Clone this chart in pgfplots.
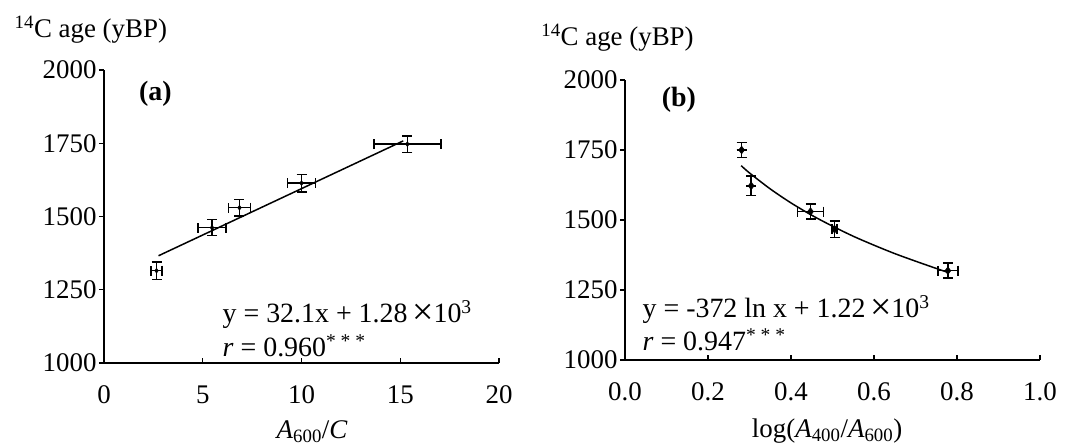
\documentclass[border=0pt]{standalone}
\usepackage{pgfplots}
\pgfplotsset{compat=1.18}
\usepackage{fontspec}
\setmainfont{Liberation Serif}
\newcommand{\tk}{\fontsize{27}{32}\selectfont}
\newcommand{\eq}{\fontsize{28}{32}\selectfont}
\newcommand{\bigx}{\,\raisebox{-1.5pt}{\fontsize{38}{38}\selectfont×}}
\begin{document}
\begin{tikzpicture}
\pgfplotsset{
  common/.style={
    scale only axis,
    axis x line*=bottom,
    axis y line*=left,
    axis line style={line width=1.6pt},
    tick align=inside,
    major tick length=5bp,
    tick style={line width=1.4pt, black},
    ytick style={xshift=-5bp},
    ymin=1000, ymax=2000,
    ytick={1000,1250,1500,1750,2000},
    tick label style={font=\tk},
    /pgf/number format/assume math mode=true,
    yticklabel style={/pgf/number format/1000 sep={}, xshift=-4bp},
    clip=false,
  },
  errs/.style={
    only marks, black, mark=diamond*, mark options={fill=black},
    error bars/.cd, x dir=both, x explicit, y dir=both, y explicit,
    error bar style={line width=1.5pt, black},
    error mark options={rotate=90, black, mark size=5bp, line width=1.5pt},
    /pgfplots/.cd,
  },
}
% ---------------- panel (a)
\begin{axis}[common,
  at={(104bp,82bp)}, anchor=south west,
  width=395bp, height=293bp,
  xmin=0, xmax=20, xtick={0,5,10,15,20},
  xticklabel style={yshift=-19bp},
  xlabel={\textit{A}\textsubscript{600}/\textit{C}},
  every axis x label/.style={at={(axis description cs:0.527,-0.235)}, anchor=center, font=\tk},
  ylabel={\textsuperscript{14}C age (yBP)},
  every axis y label/.style={at={(axis description cs:-0.235,1.137)}, anchor=west, font=\tk},
]
\addplot+[mark size=2.5, errs] table[x=x, y=y, x error=ex, y error=ey] {
x     y     ex    ey
2.66  1315  0.28  30
5.47  1462  0.70  27
6.86  1530  0.55  28
10.0  1614  0.70  30
15.36 1747  1.70  28
};
\addplot[black, line width=1.5pt, no marks] coordinates {(2.76,1366) (15.15,1758)};
\node[font=\fontsize{28}{32}\selectfont\bfseries, anchor=center] at (axis cs:2.6,1918) {(a)};
\node[font=\eq, anchor=west, inner sep=0pt] at (axis cs:6.0,1165) {y = 32.1x + 1.28\bigx10\textsuperscript{3}};
\node[font=\eq, anchor=west, inner sep=0pt] at (axis cs:6.0,1057) {\textit{r} = 0.960\textsuperscript{* * *}};
\end{axis}
% ---------------- panel (b)
\begin{axis}[common,
  at={(625bp,85bp)}, anchor=south west,
  width=415bp, height=280bp,
  xmin=0, xmax=1, xtick={0,0.2,0.4,0.6,0.8,1.0},
  xticklabel style={/pgf/number format/.cd, fixed, fixed zerofill, precision=1, /tikz/yshift=-19bp},
  xlabel={log(\textit{A}\textsubscript{400}/\textit{A}\textsubscript{600})},
  every axis x label/.style={at={(axis description cs:0.487,-0.255)}, anchor=center, font=\tk},
  ylabel={\textsuperscript{14}C age (yBP)},
  every axis y label/.style={at={(axis description cs:-0.21,1.15)}, anchor=west, font=\tk},
]
\addplot+[mark size=4, errs] table[x=x, y=y, x error=ex, y error=ey] {
x     y     ex     ey
0.281 1750  0      26
0.304 1622  0      35
0.447 1530  0.031  27
0.505 1467  0.006  30
0.778 1319  0.024  27
};
\addplot[black, line width=1.5pt, no marks, smooth] coordinates {
(0.28,1694) (0.30,1668) (0.35,1611) (0.40,1561) (0.45,1517) (0.50,1478)
(0.55,1442) (0.60,1410) (0.65,1380) (0.70,1353) (0.75,1327) (0.78,1312)};
\node[font=\fontsize{28}{32}\selectfont\bfseries, anchor=center] at (axis cs:0.13,1929) {(b)};
\node[font=\eq, anchor=west, inner sep=0pt] at (axis cs:0.042,1179) {y = -372 ln x + 1.22\bigx10\textsuperscript{3}};
\node[font=\eq, anchor=west, inner sep=0pt] at (axis cs:0.042,1071) {\textit{r} = 0.947\textsuperscript{* * *}};
\end{axis}
\pgfresetboundingbox
\useasboundingbox (0,0) rectangle (1091bp,445bp);
\end{tikzpicture}
\end{document}
